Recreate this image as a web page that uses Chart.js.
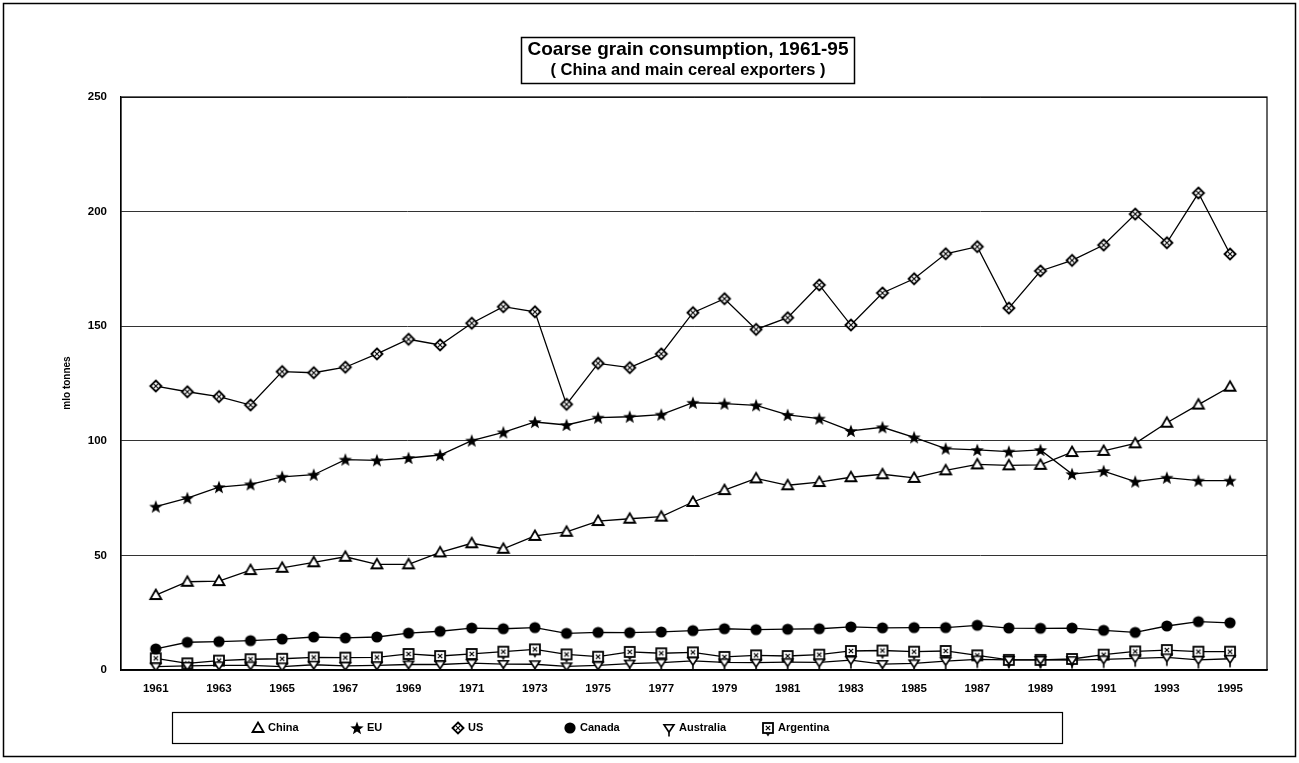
<!DOCTYPE html>
<html lang="en">
<head>
<meta charset="UTF-8">
<title>Coarse grain consumption, 1961-95</title>
<script src="https://cdn.jsdelivr.net/npm/chart.js@4"></script>
<style>
  html, body { margin: 0; padding: 0; background: #fff; }
  #wrap { position: relative; width: 1299px; height: 763px; }
</style>
</head>
<body>
<div id="wrap"><canvas id="grainChart" width="1299" height="763"></canvas></div>
<script>
// consumption, million tonnes
const years = [1961, 1962, 1963, 1964, 1965, 1966, 1967, 1968, 1969, 1970,
               1971, 1972, 1973, 1974, 1975, 1976, 1977, 1978, 1979, 1980,
               1981, 1982, 1983, 1984, 1985, 1986, 1987, 1988, 1989, 1990,
               1991, 1992, 1993, 1994, 1995];
const china = [32.7, 38.5, 38.8, 43.6, 44.6, 47.0, 49.4, 46.1, 46.1, 51.3,
               55.3, 52.9, 58.5, 60.3, 65.0, 66.0, 66.9, 73.3, 78.5, 83.6,
               80.6, 82.0, 84.1, 85.4, 83.8, 87.1, 89.7, 89.3, 89.5, 95.1,
               95.6, 98.9, 107.9, 115.8, 123.6];
const eu = [71.3, 75.0, 79.8, 81.0, 84.3, 85.2, 91.8, 91.5, 92.5, 93.8,
            100.1, 103.7, 108.2, 106.9, 110.1, 110.5, 111.4, 116.6, 116.2, 115.5,
            111.3, 109.7, 104.3, 105.9, 101.5, 96.6, 96.0, 95.3, 96.0, 85.5,
            86.8, 82.2, 83.9, 82.6, 82.6];
const us = [123.9, 121.4, 119.3, 115.6, 130.2, 129.7, 132.1, 137.9, 144.3, 141.8,
            151.3, 158.5, 156.3, 115.9, 133.8, 131.9, 137.9, 155.9, 162.0, 148.6,
            153.7, 168.0, 150.5, 164.5, 170.7, 181.6, 184.7, 157.9, 174.1, 178.7,
            185.4, 198.9, 186.4, 208.1, 181.5];
const canada = [9.2, 12.1, 12.4, 12.8, 13.5, 14.4, 14.0, 14.4, 16.1, 16.9,
                18.3, 18.0, 18.5, 16.0, 16.4, 16.3, 16.6, 17.2, 18.0, 17.6,
                17.8, 18.0, 18.8, 18.4, 18.5, 18.5, 19.5, 18.3, 18.2, 18.3,
                17.3, 16.4, 19.2, 21.1, 20.6];
const australia = [1.5, 1.8, 2.0, 2.0, 1.5, 2.3, 1.8, 2.0, 2.4, 2.4,
                   3.0, 2.6, 2.5, 1.6, 2.0, 2.8, 3.2, 4.0, 3.3, 3.2,
                   3.4, 3.3, 4.3, 2.6, 2.9, 3.9, 4.6, 4.4, 4.4, 4.3,
                   4.6, 5.1, 5.5, 4.4, 4.9];
const argentina = [5.1, 2.9, 4.1, 4.7, 4.9, 5.5, 5.4, 5.5, 7.0, 6.1,
                   7.0, 8.0, 9.0, 6.8, 5.8, 7.9, 7.3, 7.7, 5.7, 6.4,
                   6.1, 6.7, 8.3, 8.5, 8.0, 8.3, 6.4, 4.4, 4.4, 4.8,
                   6.7, 8.1, 8.7, 8.0, 8.0];

const seriesNames = ['China', 'EU', 'US', 'Canada', 'Australia', 'Argentina'];
const xTickYears = [1961, 1963, 1965, 1967, 1969, 1971, 1973, 1975, 1977,
                    1979, 1981, 1983, 1985, 1987, 1989, 1991, 1993, 1995];
const yTicks = [0, 50, 100, 150, 200, 250];

const FONT = '"Liberation Sans", Arial, sans-serif';

// marker glyphs drawn once into small canvases, used as pointStyle
function makeMarker(kind) {
  const c = document.createElement('canvas');
  c.width = 18;
  c.height = (kind === 'australia' || kind === 'argentina') ? 26 : 18;
  const g = c.getContext('2d');
  const cx = 9, cy = c.height / 2;
  g.strokeStyle = '#000';
  g.fillStyle = '#000';
  g.lineJoin = 'miter';
  if (kind === 'triangle') {
    g.beginPath();
    g.moveTo(cx, cy - 5.5);
    g.lineTo(cx + 5.5, cy + 4);
    g.lineTo(cx - 5.5, cy + 4);
    g.closePath();
    g.fillStyle = '#fff';
    g.fill();
    g.lineWidth = 1.8;
    g.stroke();
  } else if (kind === 'star') {
    g.beginPath();
    for (let i = 0; i < 10; i++) {
      const r = i % 2 === 0 ? 7 : 2.9;
      const a = -Math.PI / 2 + i * Math.PI / 5;
      const px = cx + r * Math.cos(a), py = cy + 0.6 + r * Math.sin(a);
      if (i === 0) g.moveTo(px, py); else g.lineTo(px, py);
    }
    g.closePath();
    g.fill();
  } else if (kind === 'diamond') {
    g.beginPath();
    g.moveTo(cx, cy - 5.5);
    g.lineTo(cx + 5.5, cy);
    g.lineTo(cx, cy + 5.5);
    g.lineTo(cx - 5.5, cy);
    g.closePath();
    g.fillStyle = '#fff';
    g.fill();
    g.lineWidth = 1.9;
    g.stroke();
    g.lineWidth = 1.1;
    g.beginPath();
    g.moveTo(cx - 1.9, cy - 1.9); g.lineTo(cx + 1.9, cy + 1.9);
    g.moveTo(cx + 1.9, cy - 1.9); g.lineTo(cx - 1.9, cy + 1.9);
    g.stroke();
  } else if (kind === 'circle') {
    g.beginPath();
    g.arc(cx, cy, 5.6, 0, Math.PI * 2);
    g.fill();
  } else if (kind === 'australia') {
    g.beginPath();
    g.moveTo(cx - 5, cy - 3.2);
    g.lineTo(cx + 5, cy - 3.2);
    g.lineTo(cx, cy + 4.3);
    g.closePath();
    g.fillStyle = '#fff';
    g.fill();
    g.lineWidth = 1.6;
    g.stroke();
    g.beginPath();
    g.moveTo(cx, cy + 4.3);
    g.lineTo(cx, cy + 8.5);
    g.stroke();
  } else if (kind === 'argentina') {
    g.fillStyle = '#fff';
    g.fillRect(cx - 5, cy - 5, 10, 10);
    g.lineWidth = 1.8;
    g.strokeRect(cx - 5, cy - 5, 10, 10);
    g.lineWidth = 1.2;
    g.beginPath();
    g.moveTo(cx - 2.2, cy - 2.2); g.lineTo(cx + 2.2, cy + 2.2);
    g.moveTo(cx + 2.2, cy - 2.2); g.lineTo(cx - 2.2, cy + 2.2);
    g.moveTo(cx - 1.6, cy + 5); g.lineTo(cx, cy + 7.5); g.lineTo(cx + 1.6, cy + 5);
    g.stroke();
  }
  return c;
}

const markers = {
  China: makeMarker('triangle'),
  EU: makeMarker('star'),
  US: makeMarker('diamond'),
  Canada: makeMarker('circle'),
  Australia: makeMarker('australia'),
  Argentina: makeMarker('argentina')
};

const seriesValues = [china, eu, us, canada, australia, argentina];

const datasets = seriesNames.map((name, i) => ({
  label: name,
  data: years.map((yr, j) => ({ x: yr, y: seriesValues[i][j] })),
  borderColor: '#000',
  borderWidth: 1.3,
  pointStyle: markers[name],
  pointRadius: 5,
  tension: 0,
  fill: false
}));

// frame, title box, axis title and legend box
const decorations = {
  id: 'decorations',
  afterDraw(chart) {
    const ctx = chart.ctx;
    const area = chart.chartArea;
    ctx.save();

    ctx.strokeStyle = '#000';
    ctx.lineWidth = 1.5;
    ctx.strokeRect(3.5, 3.5, 1292, 753);

    // plot area border
    ctx.lineWidth = 1.2;
    ctx.strokeRect(area.left, area.top, area.right - area.left, area.bottom - area.top);

    // title box
    ctx.lineWidth = 1.5;
    ctx.fillStyle = '#fff';
    ctx.fillRect(521, 37, 334, 46);
    ctx.strokeRect(521.5, 37.5, 333, 46);
    ctx.fillStyle = '#000';
    ctx.textAlign = 'center';
    ctx.textBaseline = 'middle';
    ctx.font = 'bold 19px ' + FONT;
    ctx.fillText('Coarse grain consumption, 1961-95', 688, 50);
    ctx.font = 'bold 16.5px ' + FONT;
    ctx.fillText('( China and main cereal exporters )', 688, 70);

    // y axis title
    ctx.save();
    ctx.translate(67, 383);
    ctx.rotate(-Math.PI / 2);
    ctx.font = 'bold 10px ' + FONT;
    ctx.fillText('mlo tonnes', 0, 0);
    ctx.restore();

    // legend
    ctx.lineWidth = 1.2;
    ctx.strokeRect(172.5, 712.5, 890, 31);
    const legendX = [258, 357, 458, 570, 669, 768];
    ctx.textAlign = 'left';
    ctx.font = 'bold 11px ' + FONT;
    seriesNames.forEach((name, i) => {
      const m = markers[name];
      ctx.drawImage(m, legendX[i] - m.width / 2, 728 - m.height / 2);
      ctx.fillText(name, legendX[i] + 10, 728);
    });

    ctx.restore();
  }
};

new Chart(document.getElementById('grainChart'), {
  type: 'line',
  data: { datasets },
  options: {
    responsive: false,
    animation: false,
    layout: { padding: { top: 97, right: 32, bottom: 63, left: 0 } },
    plugins: {
      legend: { display: false },
      title: { display: false },
      tooltip: { enabled: false }
    },
    scales: {
      x: {
        type: 'linear',
        min: 1959.9,
        max: 1996.17,
        afterBuildTicks(scale) {
          scale.ticks = xTickYears.map(v => ({ value: v }));
        },
        afterFit(scale) { scale.height = 30; },
        grid: { display: false, drawTicks: false },
        border: { display: true, color: '#000', width: 1.6 },
        ticks: {
          padding: 12,
          color: '#000',
          font: { family: FONT, size: 11.5, weight: 'bold' },
          callback: v => String(v),
          maxRotation: 0,
          autoSkip: false
        }
      },
      y: {
        min: 0,
        max: 250,
        afterBuildTicks(scale) {
          scale.ticks = yTicks.map(v => ({ value: v }));
        },
        afterFit(scale) { scale.width = 121; },
        grid: { color: '#333', lineWidth: 1, drawTicks: false },
        border: { display: true, color: '#000', width: 1.2 },
        ticks: {
          padding: 14,
          color: '#000',
          font: { family: FONT, size: 11.5, weight: 'bold' }
        }
      }
    }
  },
  plugins: [decorations]
});
</script>
</body>
</html>
